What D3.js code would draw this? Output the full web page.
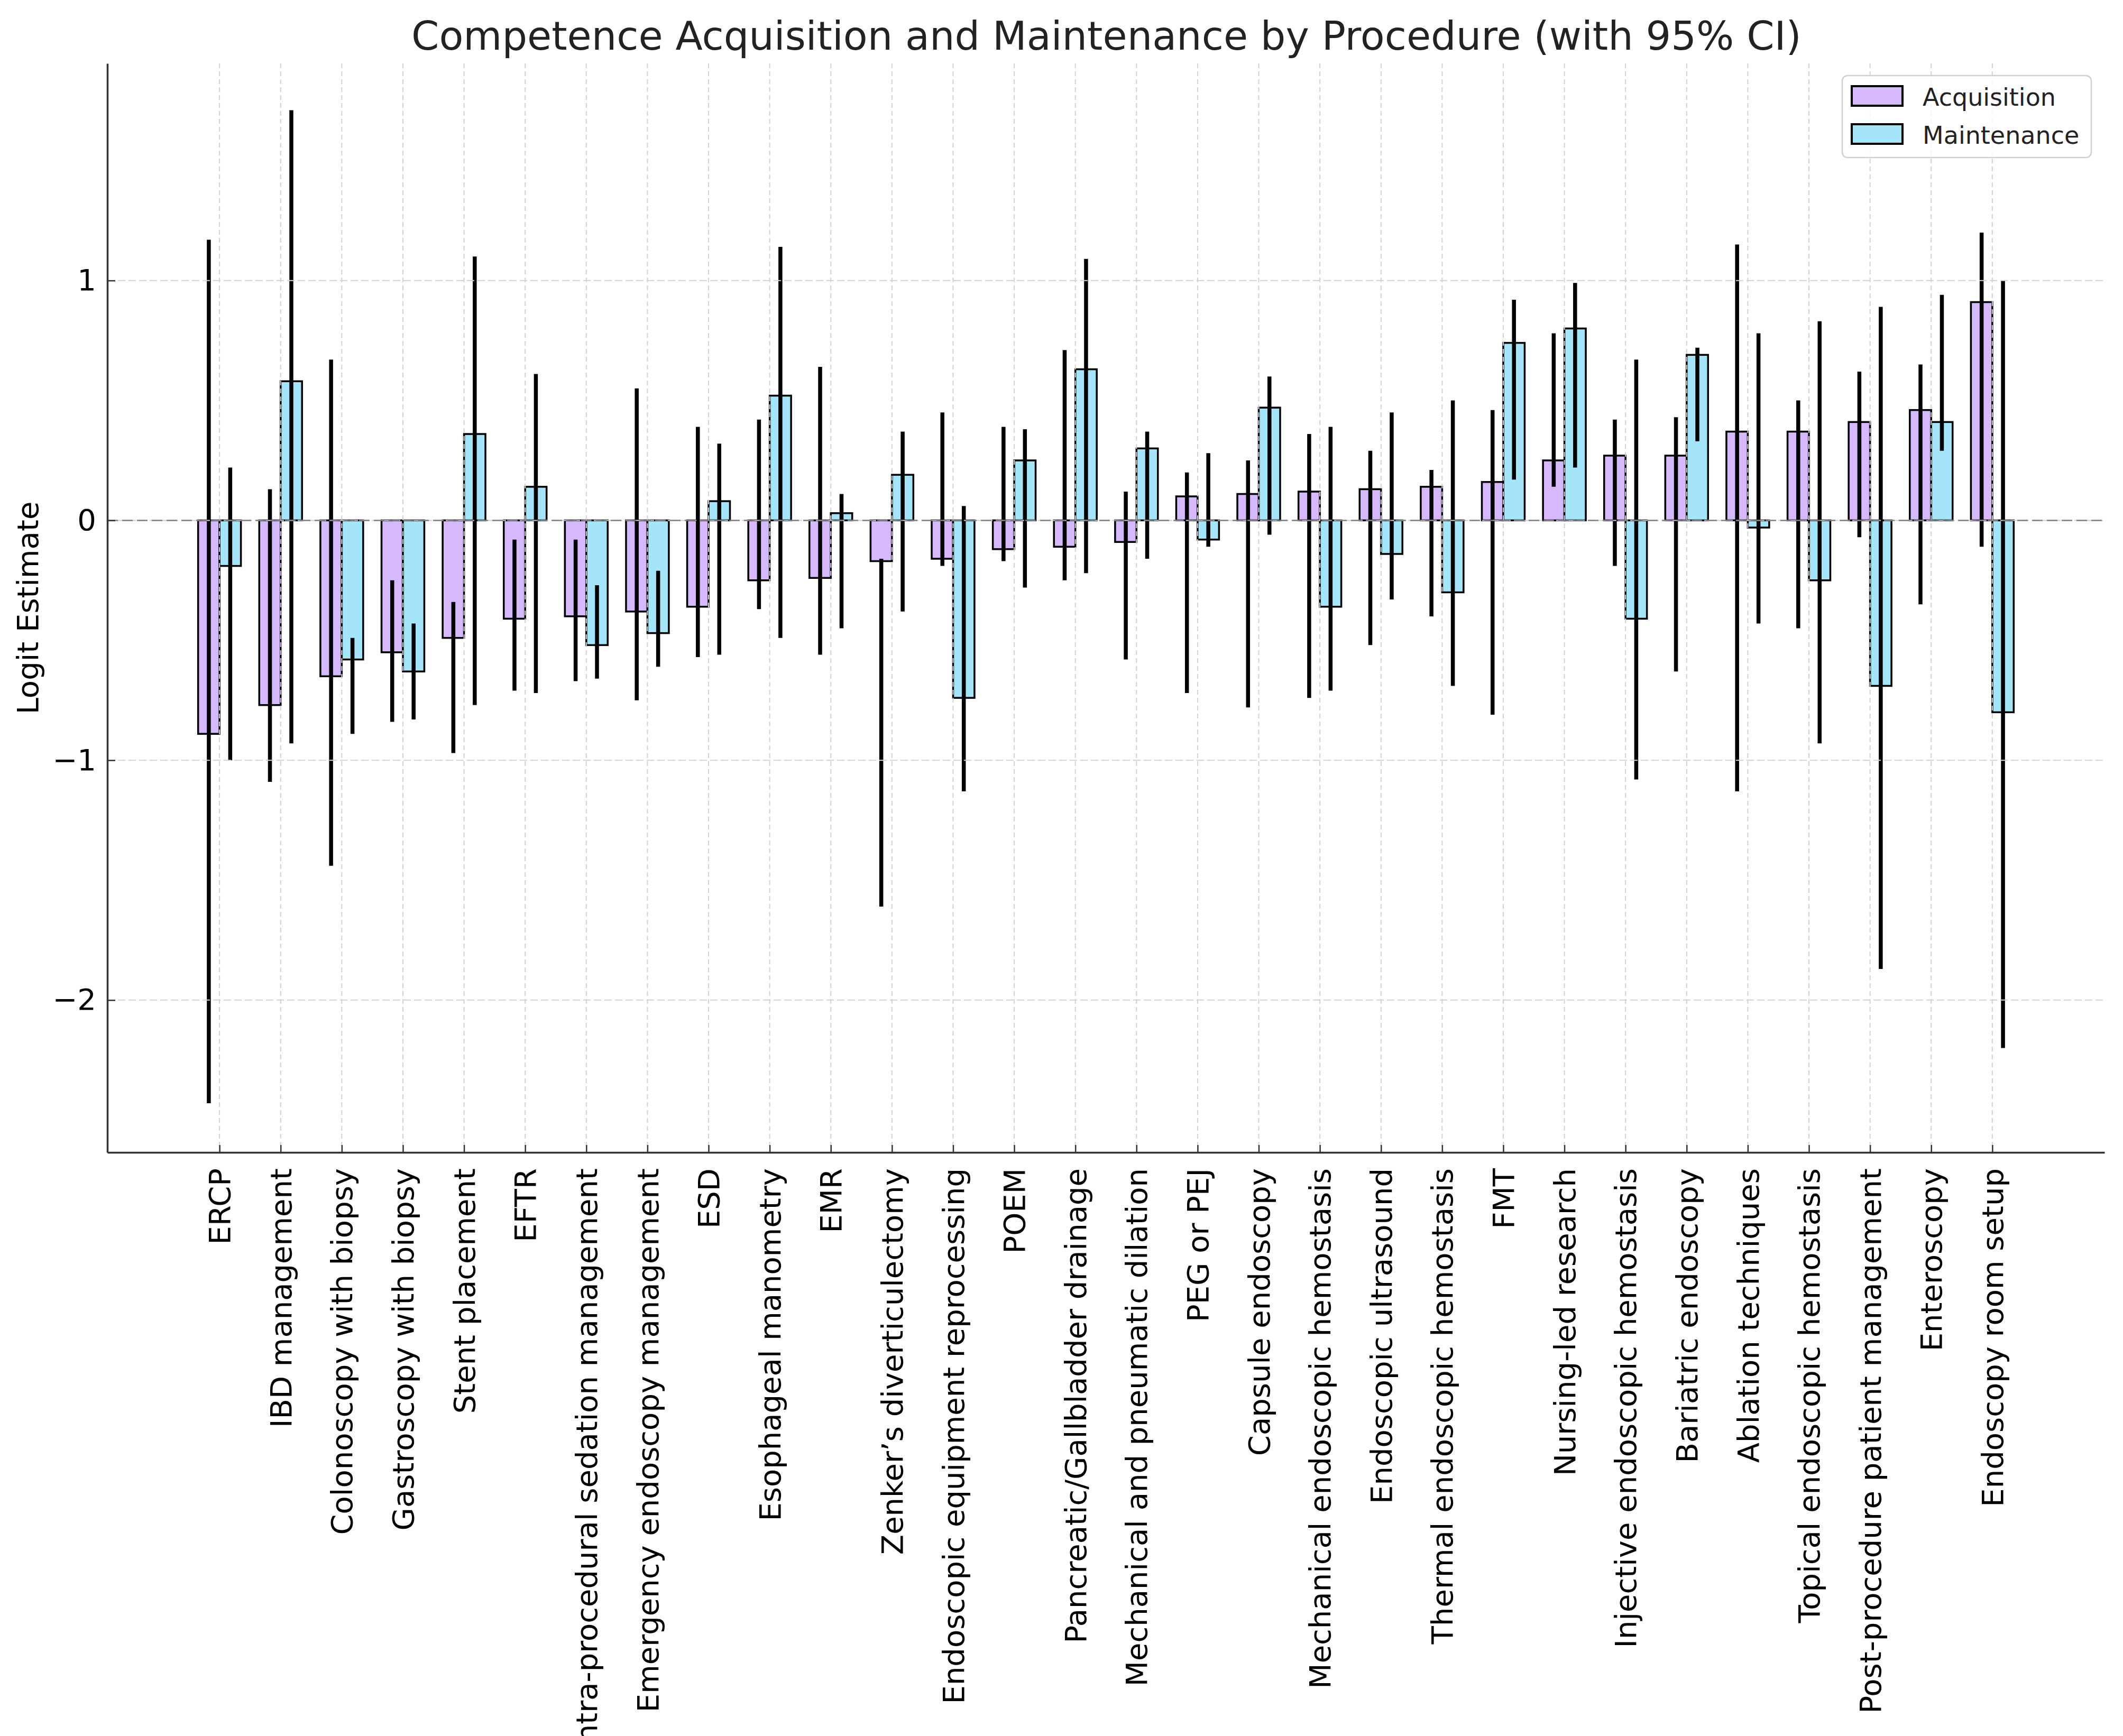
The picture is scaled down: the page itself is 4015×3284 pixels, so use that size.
<!DOCTYPE html>
<html>
<head>
<meta charset="utf-8">
<script src="https://cdn.jsdelivr.net/npm/d3@7"></script>
<style>
  body { margin: 0; background: #fff; }
  svg { display: block; font-family: "DejaVu Sans", sans-serif; }
</style>
</head>
<body>
<div id="chart"></div>
<script>
var procedures = [
  "ERCP", "IBD management", "Colonoscopy with biopsy", "Gastroscopy with biopsy",
  "Stent placement", "EFTR", "Intra-procedural sedation management",
  "Emergency endoscopy management", "ESD", "Esophageal manometry", "EMR",
  "Zenker\u2019s diverticulectomy", "Endoscopic equipment reprocessing", "POEM",
  "Pancreatic/Gallbladder drainage", "Mechanical and pneumatic dilation", "PEG or PEJ",
  "Capsule endoscopy", "Mechanical endoscopic hemostasis", "Endoscopic ultrasound",
  "Thermal endoscopic hemostasis", "FMT", "Nursing-led research",
  "Injective endoscopic hemostasis", "Bariatric endoscopy", "Ablation techniques",
  "Topical endoscopic hemostasis", "Post-procedure patient management", "Enteroscopy",
  "Endoscopy room setup"
];

// acquisition estimates and 95% CI
var acqEst  = [-0.89, -0.77, -0.65, -0.55, -0.49, -0.41, -0.40, -0.38, -0.36, -0.25, -0.24, -0.17, -0.16, -0.12, -0.11,
               -0.09, 0.10, 0.11, 0.12, 0.13, 0.14, 0.16, 0.25, 0.27, 0.27, 0.37, 0.37, 0.41, 0.46, 0.91];
var acqLow  = [-2.43, -1.09, -1.44, -0.84, -0.97, -0.71, -0.67, -0.75, -0.57, -0.37, -0.56, -1.61, -0.19, -0.17, -0.25,
               -0.58, -0.72, -0.78, -0.74, -0.52, -0.40, -0.81, 0.14, -0.19, -0.63, -1.13, -0.45, -0.07, -0.35, -0.11];
var acqHigh = [1.17, 0.13, 0.67, -0.25, -0.34, -0.08, -0.08, 0.55, 0.39, 0.42, 0.64, -0.16, 0.45, 0.39, 0.71,
               0.12, 0.20, 0.25, 0.36, 0.29, 0.21, 0.46, 0.78, 0.42, 0.43, 1.15, 0.50, 0.62, 0.65, 1.20];

// maintenance estimates and 95% CI
var mntEst  = [-0.19, 0.58, -0.58, -0.63, 0.36, 0.14, -0.52, -0.47, 0.08, 0.52, 0.03, 0.19, -0.74, 0.25, 0.63,
               0.30, -0.08, 0.47, -0.36, -0.14, -0.30, 0.74, 0.80, -0.41, 0.69, -0.03, -0.25, -0.69, 0.41, -0.80];
var mntLow  = [-1.00, -0.93, -0.89, -0.83, -0.77, -0.72, -0.66, -0.61, -0.56, -0.49, -0.45, -0.38, -1.13, -0.28, -0.22,
               -0.16, -0.11, -0.06, -0.71, -0.33, -0.69, 0.17, 0.22, -1.08, 0.33, -0.43, -0.93, -1.87, 0.29, -2.20];
var mntHigh = [0.22, 1.71, -0.49, -0.43, 1.10, 0.61, -0.27, -0.21, 0.32, 1.14, 0.11, 0.37, 0.06, 0.38, 1.09,
               0.37, 0.28, 0.60, 0.39, 0.45, 0.50, 0.92, 0.99, 0.67, 0.72, 0.78, 0.83, 0.89, 0.94, 1.00];

var yTicks = [-2, -1, 0, 1];
var seriesNames = ["Acquisition", "Maintenance"];
var seriesColors = ["#d6b8fd", "#a4e5f9"];

function drawChart() {
    var width = 4015, height = 3284;
    var mLeft = 203, mRight = 3980, mTop = 120, mBottom = 2180;
    var barW = 0.35;

    var svg = d3.select("#chart").append("svg")
        .attr("width", width)
        .attr("height", height);

    var pad = 0.05 * (procedures.length - 1 + 2 * barW);
    var x = d3.scaleLinear()
        .domain([-barW - pad, procedures.length - 1 + barW + pad])
        .range([mLeft, mRight]);

    var y = d3.scaleLinear()
        .domain([-2.635, 1.905])
        .range([mBottom, mTop]);

    var rows = procedures.map(function(p, i) {
        return {name: p, i: i,
            series: [
                {k: 0, est: acqEst[i], lo: acqLow[i], hi: acqHigh[i]},
                {k: 1, est: mntEst[i], lo: mntLow[i], hi: mntHigh[i]}
            ]};
    });

    /* bars */
    var groups = svg.append("g").selectAll("g")
        .data(rows)
        .join("g");

    groups.selectAll("rect")
        .data(d => d.series.map(s => Object.assign({i: d.i}, s)))
        .join("rect")
        .attr("x", d => d.k === 0 ? x(d.i - barW) : x(d.i))
        .attr("width", x(barW) - x(0))
        .attr("y", d => y(Math.max(0, d.est)))
        .attr("height", d => Math.abs(y(d.est) - y(0)))
        .attr("fill", d => seriesColors[d.k])
        .attr("stroke", "#000")
        .attr("stroke-width", 3.5);

    /* grid (over the bars, like matplotlib) */
    var grid = svg.append("g").attr("class", "grid");
    grid.selectAll("line.vx")
        .data(rows)
        .join("line")
        .attr("class", "vx")
        .attr("x1", d => x(d.i)).attr("x2", d => x(d.i))
        .attr("y1", mTop).attr("y2", mBottom)
        .attr("stroke", "#d2d2d2")
        .attr("stroke-width", 2)
        .attr("stroke-dasharray", "9,6");
    grid.selectAll("line.hy")
        .data(yTicks)
        .join("line")
        .attr("class", "hy")
        .attr("x1", mLeft).attr("x2", mRight)
        .attr("y1", d => y(d)).attr("y2", d => y(d))
        .attr("stroke", "#d2d2d2")
        .attr("stroke-width", 2)
        .attr("stroke-dasharray", "14,6");

    /* zero line */
    svg.append("line")
        .attr("x1", mLeft).attr("x2", mRight)
        .attr("y1", y(0)).attr("y2", y(0))
        .attr("stroke", "#808080")
        .attr("stroke-width", 2.5)
        .attr("stroke-dasharray", "20,8");

    /* error bars */
    groups.selectAll("line")
        .data(d => d.series.map(s => Object.assign({i: d.i}, s)))
        .join("line")
        .attr("x1", d => x(d.i + (d.k === 0 ? -barW / 2 : barW / 2)))
        .attr("x2", d => x(d.i + (d.k === 0 ? -barW / 2 : barW / 2)))
        .attr("y1", d => y(d.lo))
        .attr("y2", d => y(d.hi))
        .attr("stroke", "#000")
        .attr("stroke-width", 7.5);

    /* y axis */
    var yAxis = d3.axisLeft(y)
        .tickValues(yTicks)
        .tickFormat(d => d3.format("d")(d).replace("-", "\u2212"))
        .tickSizeInner(-15)
        .tickSizeOuter(0)
        .tickPadding(21);
    var gy = svg.append("g")
        .attr("transform", `translate(${mLeft},0)`)
        .call(yAxis);
    gy.select(".domain").attr("stroke", "#333").attr("stroke-width", 3.5);
    gy.selectAll(".tick line").attr("stroke", "#333").attr("stroke-width", 2.5);
    gy.selectAll(".tick text")
        .style("font-size", "56px")
        .attr("fill", "#000")
        .attr("font-family", "DejaVu Sans");

    /* x axis */
    var xAxis = d3.axisBottom(x)
        .tickValues(rows.map(d => d.i))
        .tickFormat(i => procedures[i])
        .tickSizeInner(-14)
        .tickSizeOuter(0)
        .tickPadding(0);
    var gx = svg.append("g")
        .attr("transform", `translate(0,${mBottom})`)
        .call(xAxis);
    gx.select(".domain").attr("stroke", "#333").attr("stroke-width", 3.5);
    gx.selectAll(".tick line").attr("stroke", "#333").attr("stroke-width", 2.5);
    gx.selectAll(".tick text")
        .attr("font-family", "DejaVu Sans")
        .style("font-size", "56px")
        .attr("fill", "#000")
        .attr("text-anchor", "end")
        .attr("transform", "translate(0,30) rotate(-90)")
        .attr("x", 0)
        .attr("y", 0)
        .attr("dy", "0.35em");

    /* title and axis label */
    svg.append("text")
        .attr("x", mLeft + (mRight - mLeft) / 2 + 1)
        .attr("y", 94)
        .attr("text-anchor", "middle")
        .style("font-size", "75px")
        .attr("fill", "#222")
        .text("Competence Acquisition and Maintenance by Procedure (with 95% CI)");

    svg.append("text")
        .attr("transform", `translate(72,${(mTop + mBottom) / 2}) rotate(-90)`)
        .attr("text-anchor", "middle")
        .style("font-size", "56px")
        .attr("fill", "#000")
        .text("Logit Estimate");

    /* legend */
    var lg = svg.append("g");
    lg.append("rect")
        .attr("x", 3484).attr("y", 143)
        .attr("width", 471).attr("height", 155)
        .attr("rx", 10)
        .attr("fill", "#fff").attr("fill-opacity", 0.8)
        .attr("stroke", "#d0d0d0").attr("stroke-width", 2.5);
    lg.selectAll("g.item")
        .data(seriesNames)
        .join("g")
        .attr("class", "item")
        .attr("transform", (d, i) => `translate(3502,${163 + i * 72})`)
        .each(function(d, i) {
            var g = d3.select(this);
            g.append("rect")
                .attr("width", 96).attr("height", 37)
                .attr("fill", seriesColors[i])
                .attr("stroke", "#000").attr("stroke-width", 4);
            g.append("text")
                .attr("x", 134).attr("y", 37)
                .style("font-size", "46px")
                .attr("fill", "#222")
                .text(d);
        });
}

drawChart();
</script>
</body>
</html>
